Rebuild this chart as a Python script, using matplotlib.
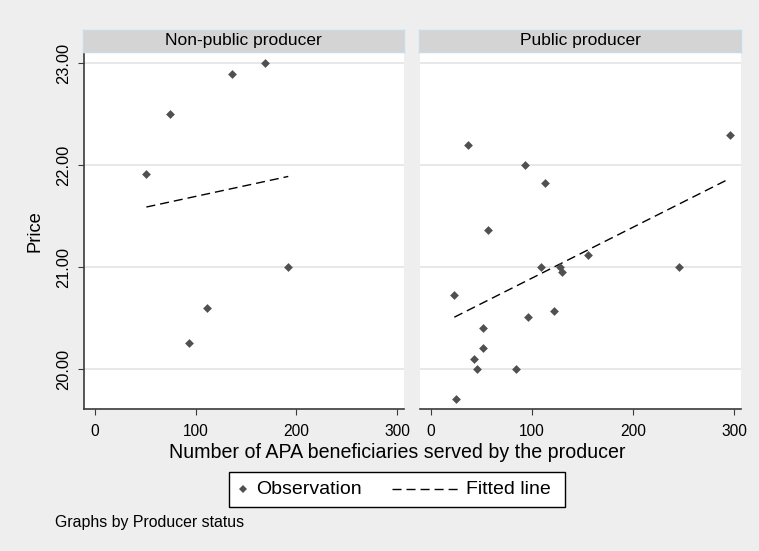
"""Price vs number of APA beneficiaries, by producer status (Stata-style two-panel scatter)."""
import matplotlib
matplotlib.use("Agg")
import matplotlib.pyplot as plt
from matplotlib.lines import Line2D
from matplotlib.patches import Rectangle

plt.rcParams["font.family"] = ["Liberation Sans", "DejaVu Sans"]

PANELS = ["Non-public producer", "Public producer"]

nonpub_x = [51, 74, 136, 169, 192, 111, 93]
nonpub_y = [21.91, 22.50, 22.89, 23.00, 21.00, 20.60, 20.26]
pub_x = [37, 93, 113, 56, 296, 155, 109, 128, 130, 246, 23, 122, 96, 51, 51, 42, 45, 84, 25]
pub_y = [22.20, 22.00, 21.83, 21.36, 22.30, 21.12, 21.00, 21.00, 20.95, 21.00,
         20.73, 20.57, 20.51, 20.40, 20.21, 20.10, 20.00, 20.00, 19.71]

# fitted-line end points
nonpub_fit_x = [51, 192]
nonpub_fit_y = [21.59, 21.89]
pub_fit_x = [23, 296]
pub_fit_y = [20.51, 21.87]

xticks = [0, 100, 200, 300]
yticks = [20, 21, 22, 23]

BG = "#eeeeee"; STRIP = "#d4d4d4"; GRID = "#e4e4e4"; AXC = "#3a3a3a"; DOT = "#505050"
DASH = (0, (6.5, 3.6))

fig = plt.figure(figsize=(7.59, 5.51), dpi=100, facecolor=BG)
W, H = 759, 551


def box(l, t, r, b):
    return [l / W, 1 - b / H, (r - l) / W, (b - t) / H]


def fx(px):
    return px / W


def fy(py):
    return 1 - py / H


data = [(nonpub_x, nonpub_y, nonpub_fit_x, nonpub_fit_y),
        (pub_x, pub_y, pub_fit_x, pub_fit_y)]
edges = [(84, 404), (420, 741)]

for i, (title, (xs, ys, lx, ly), (l, r)) in enumerate(zip(PANELS, data, edges)):
    ax = fig.add_axes(box(l, 53, r, 409))
    ax.set_facecolor("white")
    ax.set_xlim(-11, 307); ax.set_ylim(19.61, 23.10)
    for y in yticks:
        ax.axhline(y, color=GRID, lw=1.2, zorder=0)
    ax.scatter(xs, ys, marker="D", s=20, color=DOT, lw=0, zorder=3)
    ax.plot(lx, ly, color="black", lw=1.0, ls=DASH, zorder=2)
    for s in ["top", "right"]:
        ax.spines[s].set_visible(False)
    ax.spines["bottom"].set_color(AXC); ax.spines["bottom"].set_linewidth(1.2)
    ax.set_xticks(xticks)
    ax.tick_params(axis="x", length=4, color=AXC, labelsize=11.2, pad=7)
    if i == 0:
        ax.spines["left"].set_color(AXC); ax.spines["left"].set_linewidth(1.2)
        ax.set_yticks(yticks)
        ax.set_yticklabels([f"{v:.2f}" for v in yticks], rotation=90, va="center")
        ax.tick_params(axis="y", length=4, color=AXC, labelsize=11.8, pad=5)
        ax.set_ylabel("Price", fontsize=13.2)
        ax.yaxis.set_label_coords(-0.128, 0.5)
    else:
        ax.spines["left"].set_visible(False)
        ax.set_yticks(yticks); ax.tick_params(axis="y", length=0, labelleft=False)
    # strip title
    sax = fig.add_axes(box(l - 1, 30, r, 52))
    sax.set_xticks([]); sax.set_yticks([])
    sax.set_facecolor(STRIP)
    for s in sax.spines.values():
        s.set_color("#c9dbe6"); s.set_linewidth(1)
    sax.text(0.5, 0.5, title, ha="center", va="center", fontsize=12.5, transform=sax.transAxes)

fig.text(fx(397), fy(453), "Number of APA beneficiaries served by the producer",
         ha="center", va="center", fontsize=14.1)

# legend drawn by hand: small marker key, long dashed key
fig.add_artist(Rectangle((fx(229), fy(506.5)), fx(565) - fx(229), fy(472) - fy(506.5),
                         transform=fig.transFigure, facecolor="white", edgecolor="black", lw=1.0))
fig.add_artist(Line2D([fx(243)], [fy(489)], marker="D", ls="none", color=DOT,
                      markersize=4.5, mew=0, transform=fig.transFigure))
fig.text(fx(256), fy(489), "Observation", ha="left", va="center", fontsize=14)
fig.add_artist(Line2D([fx(392), fx(460)], [fy(489), fy(489)], color="black", lw=1.0, ls=DASH,
                      transform=fig.transFigure))
fig.text(fx(466), fy(489), "Fitted line", ha="left", va="center", fontsize=14)

fig.text(fx(55), fy(522.5), "Graphs by Producer status", ha="left", va="center", fontsize=11.4)

fig.savefig("out.png", dpi=100, facecolor=BG)
